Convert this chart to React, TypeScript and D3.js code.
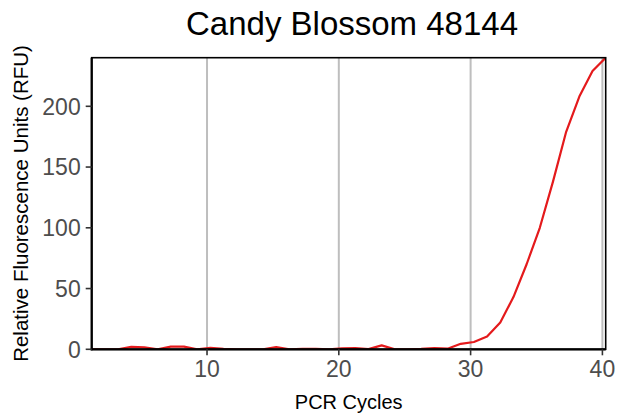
import React from "react";
import * as d3 from "d3";

const title = "Candy Blossom 48144";
const xLabel = "PCR Cycles";
const yLabel = "Relative Fluorescence Units (RFU)";

const cycles = [
  1.25, 2.25, 3.25, 4.25, 5.25, 6.25, 7.25, 8.25, 9.25, 10.25,
  11.25, 12.25, 13.25, 14.25, 15.25, 16.25, 17.25, 18.25, 19.25, 20.25,
  21.25, 22.25, 23.25, 24.25, 25.25, 26.25, 27.25, 28.25, 29.25, 30.25,
  31.25, 32.25, 33.25, 34.25, 35.25, 36.25, 37.25, 38.25, 39.25, 40.25,
];
const rfu = [
  0, 0, 0, 2.0, 1.6, 0, 2.2, 2.2, 0, 1.2,
  0.4, 0, 0, 0, 1.8, 0, 0.3, 0.3, 0, 0.8,
  1.0, 0.2, 3.2, 0, 0, 0.3, 1.0, 0.5, 4.5, 6.0,
  10.5, 22, 43, 70, 100, 138, 179, 208, 229, 240,
];
const xTicks = [10, 20, 30, 40];
const yTicks = [0, 50, 100, 150, 200];

const W = 618;
const H = 417;
const M = { left: 91.7, right: 618 - 605.7, top: 57.7, bottom: 417 - 349.3 };
const FONT = "'Liberation Sans', Arial, Helvetica, sans-serif";

export default function App() {
  const x = d3.scaleLinear().domain([d3.min(cycles)!, d3.max(cycles)!]).range([M.left, W - M.right]);
  const y = d3.scaleLinear().domain([0, 240]).range([H - M.bottom, M.top]);
  const data = cycles.map((c, i) => [c, rfu[i]] as [number, number]);
  const line = d3
    .line<[number, number]>()
    .x((d) => x(d[0]))
    .y((d) => y(d[1]));
  const x0 = M.left;
  const x1 = W - M.right;
  const y0 = H - M.bottom;
  const y1 = M.top;
  return (
    <div style={{ position: "fixed", left: 0, top: 0 }}>
      <svg width={W} height={H} style={{ display: "block", background: "#fff" }} fontFamily={FONT}>
        <defs>
          <clipPath id="panel">
            <rect x={x0} y={y1} width={x1 - x0} height={y0 - y1} />
          </clipPath>
        </defs>
        <rect x={0} y={0} width={W} height={H} fill="#fff" />
        {xTicks.map((t) => (
          <line key={"g" + t} x1={x(t)} x2={x(t)} y1={y1} y2={y0} stroke="#bebebe" strokeWidth={2} />
        ))}
        <path d={line(data) || ""} fill="none" stroke="#e41a1c" strokeWidth={2.2} clipPath="url(#panel)" strokeLinejoin="round" />
        <rect x={x0} y={y1} width={x1 - x0} height={y0 - y1} fill="none" stroke="#000" strokeWidth={1.6} />
        <line x1={x0} x2={x0} y1={y1} y2={y0 + 1} stroke="#000" strokeWidth={2.2} />
        <line x1={x0 - 1} x2={x1} y1={y0} y2={y0} stroke="#000" strokeWidth={2.2} />
        {xTicks.map((t) => (
          <g key={"x" + t}>
            <line x1={x(t)} x2={x(t)} y1={y0} y2={y0 + 6} stroke="#333" strokeWidth={1.6} />
            <text x={x(t)} y={y0 + 28} textAnchor="middle" fontSize={23} fill="#4d4d4d">
              {t}
            </text>
          </g>
        ))}
        {yTicks.map((t) => (
          <g key={"y" + t}>
            <line x1={x0 - 6} x2={x0} y1={y(t)} y2={y(t)} stroke="#333" strokeWidth={1.6} />
            <text x={x0 - 11} y={y(t)} dy="0.36em" textAnchor="end" fontSize={23} fill="#4d4d4d">
              {t}
            </text>
          </g>
        ))}
        <text x={(x0 + x1) / 2} y={409} textAnchor="middle" fontSize={20} fill="#000">
          {xLabel}
        </text>
        <text
          transform={`translate(28,${(y0 + y1) / 2}) rotate(-90)`}
          textAnchor="middle"
          fontSize={20.5}
          fill="#000"
        >
          {yLabel}
        </text>
        <text x={352} y={35} textAnchor="middle" fontSize={33} fill="#000">
          {title}
        </text>
      </svg>
    </div>
  );
}
